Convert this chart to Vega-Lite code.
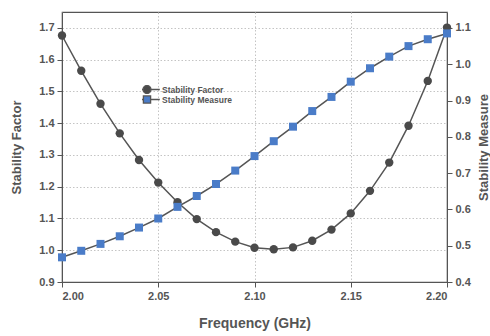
{
  "$schema": "https://vega.github.io/schema/vega-lite/v6.json",
  "width": 385,
  "height": 270,
  "autosize": "none",
  "padding": {"left": 62, "top": 12, "right": 43, "bottom": 54},
  "background": "white",
  "config": {
    "view": {"stroke": "#555", "strokeWidth": 1.2},
    "axis": {
      "labelFont": "Liberation Sans",
      "labelFontWeight": "bold",
      "labelFontSize": 11,
      "labelColor": "#555",
      "titleFont": "Liberation Sans",
      "titleFontWeight": "bold",
      "titleFontSize": 13,
      "titleColor": "#555",
      "domainColor": "#555",
      "tickColor": "#555",
      "gridColor": "#c4c4c4",
      "gridDash": [1.5, 2]
    },
    "legend": {
      "labelFont": "Liberation Sans",
      "labelFontWeight": "bold",
      "labelFontSize": 8.5,
      "labelColor": "#555"
    }
  },
  "data": {
    "values": [
      {"f": 2.00, "s": "Stability Factor", "v": 1.676},
      {"f": 2.01, "s": "Stability Factor", "v": 1.565},
      {"f": 2.02, "s": "Stability Factor", "v": 1.461},
      {"f": 2.03, "s": "Stability Factor", "v": 1.368},
      {"f": 2.04, "s": "Stability Factor", "v": 1.284},
      {"f": 2.05, "s": "Stability Factor", "v": 1.213},
      {"f": 2.06, "s": "Stability Factor", "v": 1.151},
      {"f": 2.07, "s": "Stability Factor", "v": 1.098},
      {"f": 2.08, "s": "Stability Factor", "v": 1.057},
      {"f": 2.09, "s": "Stability Factor", "v": 1.027},
      {"f": 2.10, "s": "Stability Factor", "v": 1.008},
      {"f": 2.11, "s": "Stability Factor", "v": 1.003},
      {"f": 2.12, "s": "Stability Factor", "v": 1.009},
      {"f": 2.13, "s": "Stability Factor", "v": 1.030},
      {"f": 2.14, "s": "Stability Factor", "v": 1.065},
      {"f": 2.15, "s": "Stability Factor", "v": 1.116},
      {"f": 2.16, "s": "Stability Factor", "v": 1.187},
      {"f": 2.17, "s": "Stability Factor", "v": 1.276},
      {"f": 2.18, "s": "Stability Factor", "v": 1.392},
      {"f": 2.19, "s": "Stability Factor", "v": 1.533},
      {"f": 2.20, "s": "Stability Factor", "v": 1.701},
      {"f": 2.00, "s": "Stability Measure", "v": 0.468},
      {"f": 2.01, "s": "Stability Measure", "v": 0.486},
      {"f": 2.02, "s": "Stability Measure", "v": 0.505},
      {"f": 2.03, "s": "Stability Measure", "v": 0.526},
      {"f": 2.04, "s": "Stability Measure", "v": 0.550},
      {"f": 2.05, "s": "Stability Measure", "v": 0.575},
      {"f": 2.06, "s": "Stability Measure", "v": 0.607},
      {"f": 2.07, "s": "Stability Measure", "v": 0.637},
      {"f": 2.08, "s": "Stability Measure", "v": 0.670},
      {"f": 2.09, "s": "Stability Measure", "v": 0.707},
      {"f": 2.10, "s": "Stability Measure", "v": 0.747},
      {"f": 2.11, "s": "Stability Measure", "v": 0.788},
      {"f": 2.12, "s": "Stability Measure", "v": 0.828},
      {"f": 2.13, "s": "Stability Measure", "v": 0.871},
      {"f": 2.14, "s": "Stability Measure", "v": 0.910},
      {"f": 2.15, "s": "Stability Measure", "v": 0.952},
      {"f": 2.16, "s": "Stability Measure", "v": 0.989},
      {"f": 2.17, "s": "Stability Measure", "v": 1.021},
      {"f": 2.18, "s": "Stability Measure", "v": 1.050},
      {"f": 2.19, "s": "Stability Measure", "v": 1.069},
      {"f": 2.20, "s": "Stability Measure", "v": 1.085}
    ]
  },
  "encoding": {
    "x": {
      "field": "f",
      "type": "quantitative",
      "title": "Frequency (GHz)",
      "scale": {"domain": [2.0, 2.2], "nice": false},
      "axis": {
        "values": [2.0, 2.05, 2.1, 2.15, 2.2],
        "format": ".2f",
        "grid": true,
        "tickSize": 5,
        "labelPadding": 3,
        "titlePadding": 15,
        "titleFontSize": 14
      }
    }
  },
  "layer": [
    {
      "transform": [{"filter": "datum.s === 'Stability Factor'"}],
      "encoding": {
        "y": {
          "field": "v",
          "type": "quantitative",
          "title": "Stability Factor",
          "scale": {"domain": [0.9, 1.75], "nice": false, "zero": false},
          "axis": {
            "values": [0.9, 1.0, 1.1, 1.2, 1.3, 1.4, 1.5, 1.6, 1.7],
            "format": ".1f",
            "grid": true,
            "tickSize": 5,
            "labelPadding": 3,
            "titlePadding": 15
          }
        }
      },
      "layer": [
        {"mark": {"type": "line", "color": "#555", "strokeWidth": 1.5}},
        {"mark": {"type": "point", "filled": true, "size": 70, "opacity": 1, "shape": "circle", "color": "#4a4a4a"}},
        {
          "mark": {"type": "point", "filled": true, "size": 64, "opacity": 0},
          "encoding": {
            "color": {
              "field": "s",
              "type": "nominal",
              "scale": {"domain": ["Stability Factor", "Stability Measure"], "range": ["#4a4a4a", "#4a7cc8"]},
              "legend": {
                "title": null, "orient": "none", "legendX": 80, "legendY": 73, "padding": 0, "rowPadding": 1,
                "clipHeight": 9, "symbolSize": 64, "labelOffset": 10, "symbolOpacity": 1,
                "symbolStrokeColor": "#555", "symbolStrokeWidth": 1.3,
                "encode": {"symbols": {"update": {"stroke": {"value": "#555"}, "strokeWidth": {"value": 1.3}, "opacity": {"value": 1}}}}
              }
            },
            "shape": {
              "field": "s",
              "type": "nominal",
              "scale": {
                "domain": ["Stability Factor", "Stability Measure"],
                "range": [
                  "M-3.2,0H-1M1,0H3.2M-1,0A1,1 0 1,0 1,0A1,1 0 1,0 -1,0Z",
                  "M-3.2,0H-0.9M0.9,0H3.2M-0.9,-0.9H0.9V0.9H-0.9Z"
                ]
              },
              "legend": {
                "title": null, "orient": "none", "legendX": 80, "legendY": 73, "padding": 0, "rowPadding": 1,
                "clipHeight": 9, "symbolSize": 64, "labelOffset": 10, "symbolOpacity": 1,
                "symbolStrokeColor": "#555", "symbolStrokeWidth": 1.3,
                "encode": {"symbols": {"update": {"stroke": {"value": "#555"}, "strokeWidth": {"value": 1.3}, "opacity": {"value": 1}}}}
              }
            }
          }
        }
      ]
    },
    {
      "transform": [{"filter": "datum.s === 'Stability Measure'"}],
      "encoding": {
        "y": {
          "field": "v",
          "type": "quantitative",
          "title": "Stability Measure",
          "scale": {"domain": [0.4, 1.144], "nice": false, "zero": false},
          "axis": {
            "orient": "right",
            "values": [0.4, 0.5, 0.6, 0.7, 0.8, 0.9, 1.0, 1.1],
            "format": ".1f",
            "grid": false,
            "tickSize": 5,
            "labelPadding": 3,
            "titlePadding": 20,
            "titleAngle": 270
          }
        }
      },
      "layer": [
        {"mark": {"type": "line", "color": "#555", "strokeWidth": 1.5}},
        {"mark": {"type": "point", "filled": true, "size": 64, "opacity": 1, "shape": "square", "color": "#4a7cc8"}}
      ]
    }
  ],
  "resolve": {"scale": {"y": "independent"}}
}
